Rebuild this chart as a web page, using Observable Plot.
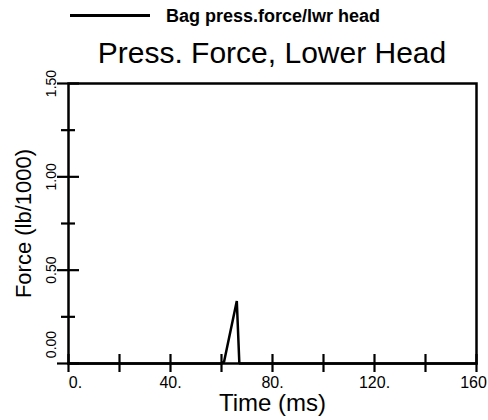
<!DOCTYPE html>
<html><head><meta charset="utf-8">
<script src="https://cdn.jsdelivr.net/npm/d3@7"></script>
<script src="https://cdn.jsdelivr.net/npm/@observablehq/plot@0.6"></script>
<style>
body{margin:0;background:#fff;font-family:"Liberation Sans",Arial,Helvetica,sans-serif;color:#000}
#wrap{width:488px;height:420px;position:relative;overflow:hidden;background:#fff}
#legend{position:relative;height:32px}
#swatch{position:absolute;left:70px;top:14px;width:80px;height:2.5px;background:#000}
#legtext{position:absolute;left:166px;top:0;line-height:32px;font-size:18px;font-weight:bold;white-space:nowrap}
#title{height:38px;line-height:38px;font-size:30px;text-align:center;margin-left:56px;position:relative;top:2px;white-space:nowrap}
#chart svg{display:block}
</style></head><body>
<div id="wrap">
<div id="legend"><div id="swatch"></div><div id="legtext"></div></div>
<div id="title"></div>
<div id="chart"></div>
</div>
<script>
const seriesName = "Bag press.force/lwr head";
const chartTitle = "Press. Force, Lower Head";
const xTitle = "Time (ms)";
const yTitle = "Force (lb/1000)";
const timeMs = [0, 60, 61, 66, 67, 160];
const forceKlb = [0, 0, 0.01, 0.335, 0, 0];
const xTicks = [0, 20, 40, 60, 80, 100, 120, 140, 160];
const xLabelTicks = [0, 40, 80, 120, 160];
const xTickLabels = ["0.", "40.", "80.", "120.", "160"];
const yMajorTicks = [0, 0.5, 1, 1.5];
const yMinorTicks = [0.25, 0.75, 1.25];
const yTickLabels = ["0.00", "0.50", "1.00", "1.50"];

document.getElementById("legtext").textContent = seriesName;
document.getElementById("title").textContent = chartTitle;

const data = timeMs.map((t, i) => ({t, f: forceKlb[i]}));
const xfmt = d => xTickLabels[xLabelTicks.indexOf(d)];
const blank = () => "";
const yLab = yMajorTicks.map((v, i) => ({v, s: yTickLabels[i]}));
const xFirst = xLabelTicks.slice(0, 1);
const xMid = xLabelTicks.slice(1, -1);
const xLast = xLabelTicks.slice(-1);

const chart = Plot.plot({
  width: 488, height: 350,
  marginTop: 13, marginBottom: 57, marginLeft: 68, marginRight: 12,
  x: {domain: [0, 160], axis: null},
  y: {domain: [0, 1.5], axis: null},
  style: {fontFamily: '"Liberation Sans",Arial,Helvetica,sans-serif', color: "#000", background: "#fff", overflow: "visible"},
  marks: [
    Plot.frame({strokeWidth: 2.5}),
    Plot.axisX(xTicks, {tickSize: 18, dy: -9, tickFormat: blank, strokeWidth: 2.2, label: null}),
    Plot.axisX(xFirst, {tickSize: 0, tickPadding: 13, tickFormat: xfmt, dx: 7, fontSize: 16, label: null}),
    Plot.axisX(xMid, {tickSize: 0, tickPadding: 13, tickFormat: xfmt, fontSize: 16, label: null}),
    Plot.axisX(xLast, {tickSize: 0, tickPadding: 13, tickFormat: xfmt, dx: -3, fontSize: 16, label: null}),
    Plot.axisY(yMajorTicks, {tickSize: 22, dx: 11, tickFormat: blank, strokeWidth: 2.2, label: null}),
    Plot.axisY(yMinorTicks, {tickSize: 14, dx: 7, tickFormat: blank, strokeWidth: 2.2, label: null}),
    Plot.text(yLab.filter(d => d.v === 0), {y: "v", text: "s", frameAnchor: "left", dx: -17, dy: -19, rotate: -90, textAnchor: "middle", lineAnchor: "middle", fontSize: 14}),
    Plot.text(yLab.filter(d => d.v !== 0), {y: "v", text: "s", frameAnchor: "left", dx: -17, rotate: -90, textAnchor: "middle", lineAnchor: "middle", fontSize: 14}),
    Plot.text([xTitle], {text: d => d, frameAnchor: "bottom", dy: 40, lineAnchor: "middle", textAnchor: "middle", fontSize: 24}),
    Plot.text([yTitle], {text: d => d, frameAnchor: "left", dx: -45, rotate: -90, lineAnchor: "middle", textAnchor: "middle", fontSize: 22}),
    Plot.line(data, {x: "t", y: "f", strokeWidth: 2.5, strokeLinejoin: "miter"})
  ]
});
document.getElementById("chart").appendChild(chart);
</script>
</body></html>
